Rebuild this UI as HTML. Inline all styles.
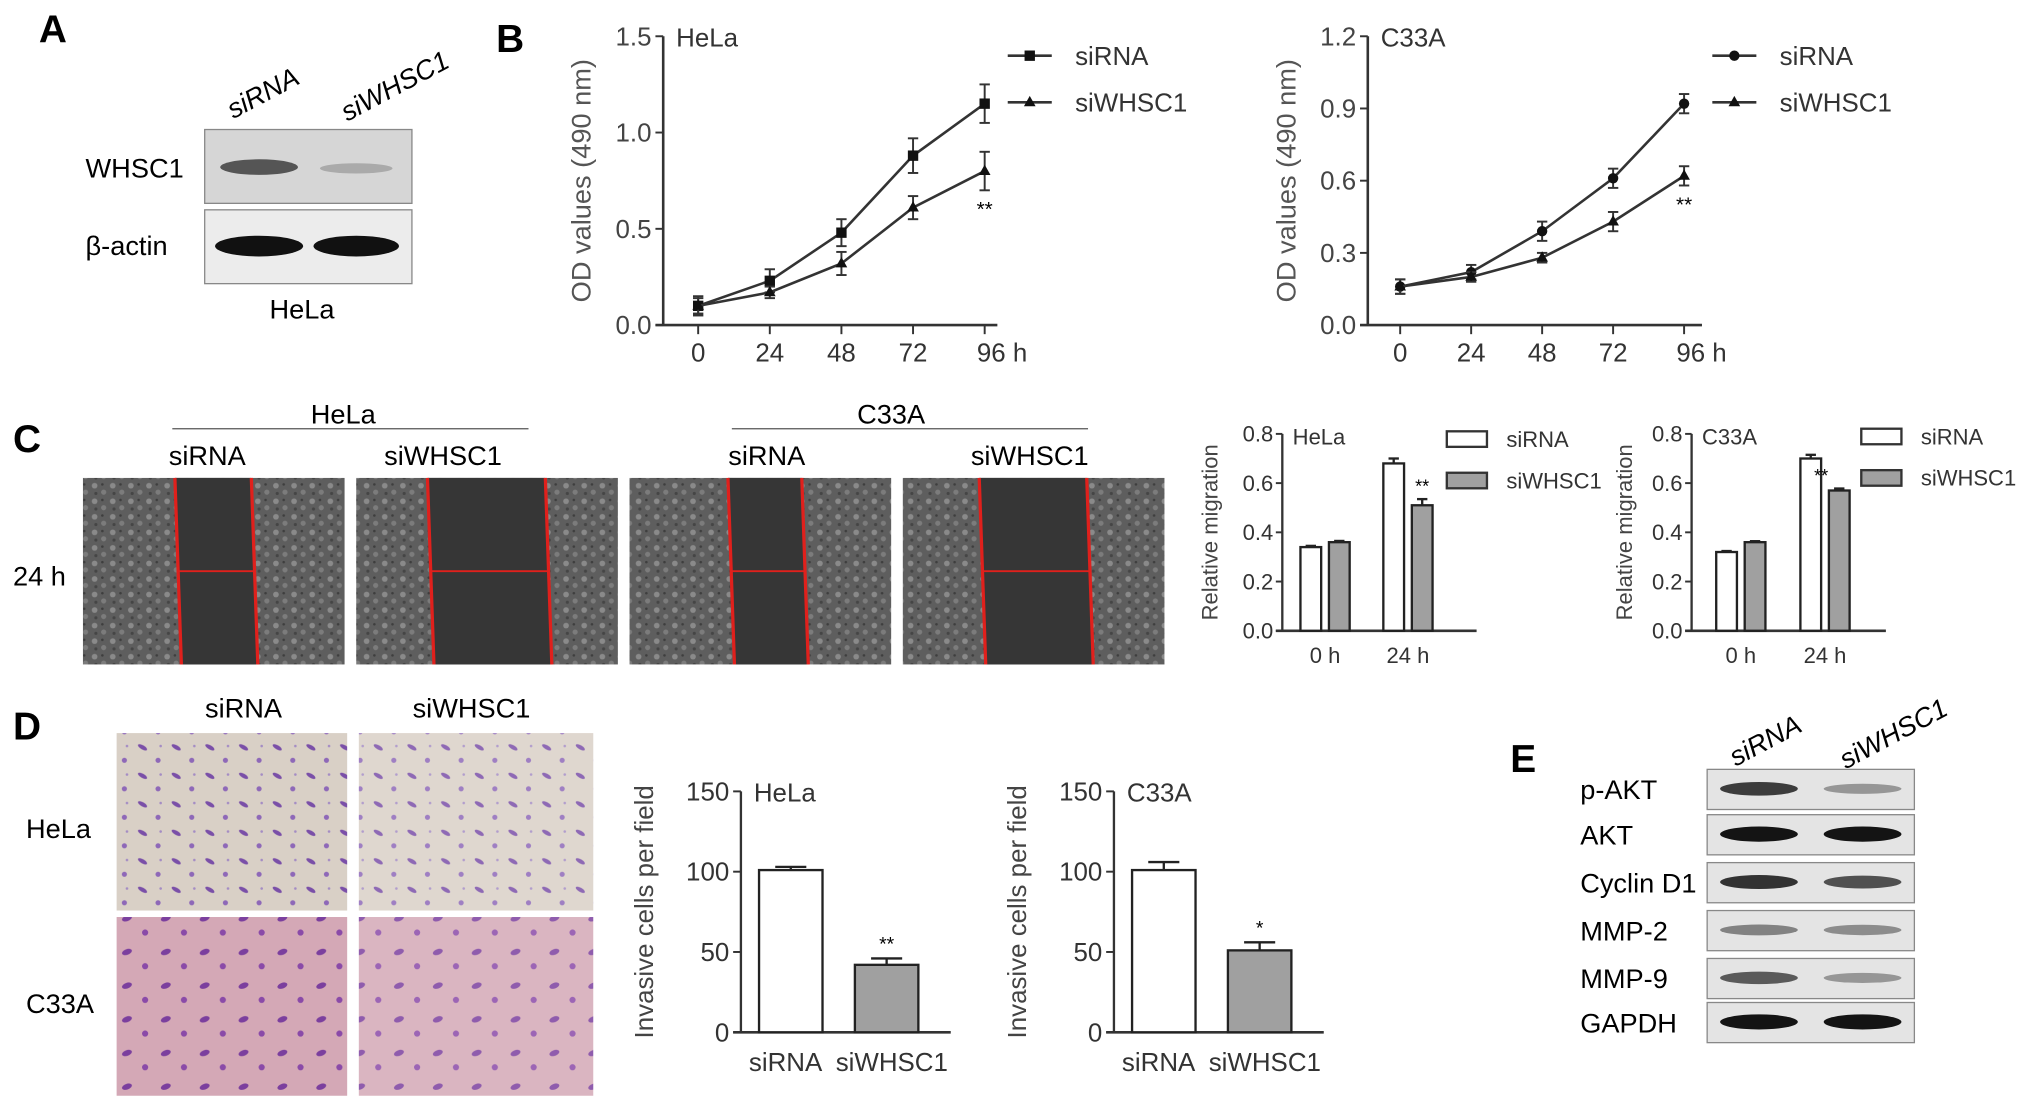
<!DOCTYPE html>
<html><head><meta charset="utf-8"><style>
html,body{margin:0;padding:0;background:#fff}
svg{display:block;font-family:"Liberation Sans",Arial,sans-serif}
</style></head><body>
<svg id="fig" width="2031" height="1110" viewBox="0 0 1568 857" xmlns="http://www.w3.org/2000/svg">
<defs>
<pattern id="cells" width="14" height="12" patternUnits="userSpaceOnUse">
<rect width="14" height="12" fill="#5e5e5e"/><circle cx="3" cy="3" r="2.2" fill="#8a8a8a"/><circle cx="10" cy="8" r="2" fill="#7c7c7c"/><circle cx="9" cy="2" r="1" fill="#3e3e3e"/><circle cx="4" cy="9" r="1.2" fill="#454545"/></pattern>
<pattern id="invH" width="26" height="22" patternUnits="userSpaceOnUse">
<rect width="26" height="22" fill="#d9d0c6"/><ellipse cx="6" cy="5" rx="4" ry="1.6" fill="#7a4fa8" transform="rotate(30 6 5)"/><circle cx="18" cy="15" r="2" fill="#8e68b8"/><circle cx="20" cy="4" r="1" fill="#a48cc4"/></pattern>
<pattern id="invC" width="30" height="26" patternUnits="userSpaceOnUse">
<rect width="30" height="26" fill="#d4a8b6"/><ellipse cx="8" cy="7" rx="4" ry="2.2" fill="#7b3f9e" transform="rotate(-20 8 7)"/><circle cx="22" cy="18" r="2.4" fill="#8a4aa8"/></pattern>
</defs>

<!-- Panel A -->
<g font-size="21">
<text x="30" y="33" font-size="30" font-weight="bold">A</text>
<text transform="translate(180,92) rotate(-28)" font-style="italic">siRNA</text>
<text transform="translate(268,94) rotate(-28)" font-style="italic">siWHSC1</text>
<rect x="158" y="100" width="160" height="57" fill="#d6d6d6" stroke="#888"/>
<ellipse cx="200" cy="129" rx="30" ry="6" fill="#555"/><ellipse cx="275" cy="130" rx="28" ry="4" fill="#aaa"/>
<rect x="158" y="162" width="160" height="57" fill="#ececec" stroke="#888"/>
<ellipse cx="200" cy="190" rx="34" ry="8" fill="#111"/><ellipse cx="275" cy="190" rx="33" ry="8" fill="#111"/>
<text x="66" y="137">WHSC1</text>
<text x="66" y="197">β-actin</text>
<text x="208" y="246">HeLa</text>
</g>
<text x="383" y="40" font-size="30" font-weight="bold">B</text>
<text x="10" y="349" font-size="30" font-weight="bold">C</text>
<text x="10" y="571" font-size="30" font-weight="bold">D</text>
<text x="1166" y="596" font-size="30" font-weight="bold">E</text>

<!-- Panel C images -->
<g font-size="21">
<text x="265" y="327" text-anchor="middle">HeLa</text><line x1="133" y1="331" x2="408" y2="331" stroke="#555"/>
<text x="688" y="327" text-anchor="middle">C33A</text><line x1="565" y1="331" x2="840" y2="331" stroke="#555"/>
<text x="160" y="359" text-anchor="middle">siRNA</text><text x="342" y="359" text-anchor="middle">siWHSC1</text>
<text x="592" y="359" text-anchor="middle">siRNA</text><text x="795" y="359" text-anchor="middle">siWHSC1</text>
<text x="10" y="452">24 h</text>
<g id="woundImgs"></g>
</g>

<!-- Panel D images -->
<g font-size="21">
<text x="188" y="554" text-anchor="middle">siRNA</text><text x="364" y="554" text-anchor="middle">siWHSC1</text>
<text x="20" y="647">HeLa</text><text x="20" y="782">C33A</text>
<rect x="90" y="566" width="178" height="137" fill="url(#invH)"/>
<rect x="277" y="566" width="181" height="137" fill="url(#invH)" opacity="0.85"/>
<rect x="90" y="708" width="178" height="138" fill="url(#invC)"/>
<rect x="277" y="708" width="181" height="138" fill="url(#invC)" opacity="0.85"/>
</g>

<!-- Panel E -->
<g font-size="21">
<text transform="translate(1340,592) rotate(-28)" font-style="italic">siRNA</text>
<text transform="translate(1425,594) rotate(-28)" font-style="italic">siWHSC1</text>
<g id="eBlots"></g>
</g>

<g id="charts"></g>
</svg>
<script>
const NS='http://www.w3.org/2000/svg';
function mk(parent,tag,attrs,text){const e=document.createElementNS(NS,tag);for(const k in attrs)e.setAttribute(k,attrs[k]);if(text!==undefined)e.textContent=text;parent.appendChild(e);return e;}
const charts=document.getElementById('charts');

// wound images
const woundX=[64,275,486,697];
const woundGapL=[137,332,564,758];
const woundGapR=[197,424,622,842];
const wg=document.getElementById('woundImgs');
woundX.forEach((x,i)=>{
 const r=mk(wg,'rect',{x:x,y:369,width:202,height:144,fill:'url(#cells)'});
 
 
 const L=woundGapL[i],R=woundGapR[i];
 mk(wg,'polygon',{points:`${L-2},369 ${R-3},369 ${R+2},513 ${L+3},513`,fill:'#363636'});
 mk(wg,'line',{x1:L-2,y1:369,x2:L+3,y2:513,stroke:'#e0201c','stroke-width':2.5});
 mk(wg,'line',{x1:R-3,y1:369,x2:R+2,y2:513,stroke:'#e0201c','stroke-width':2.5});
 mk(wg,'line',{x1:L,y1:441,x2:R,y2:441,stroke:'#e0201c','stroke-width':1.5});
});

// E blots
const eLabels=['p-AKT','AKT','Cyclin D1','MMP-2','MMP-9','GAPDH'];
const eY=[594,629,666,703,740,774];
const eInt=[[0.75,0.3],[0.95,0.95],[0.8,0.65],[0.4,0.35],[0.6,0.3],[0.95,0.95]];
const eg=document.getElementById('eBlots');
eLabels.forEach((l,i)=>{
 const b=mk(eg,'rect',{x:1318,y:eY[i],width:160,height:31,fill:'#e4e4e4',stroke:'#888'});
 
 
 [1358,1438].forEach((cx,j)=>{const v=eInt[i][j];mk(eg,'ellipse',{cx:cx,cy:eY[i]+15,rx:30,ry:3+3*v,fill:`rgb(${Math.round(210-200*v)},${Math.round(210-200*v)},${Math.round(210-200*v)})`});});
 mk(eg,'text',{x:1220,y:eY[i]+23},l);
});

// ---------- Panel B data ----------
const bTimes=['0','24','48','72','96 h'];
const helaSi=[0.10,0.23,0.48,0.88,1.15];
const helaSiErr=[0.05,0.06,0.07,0.09,0.10];
const helaKd=[0.10,0.17,0.32,0.61,0.80];
const helaKdErr=[0.04,0.03,0.06,0.06,0.10];
const helaTicks=['0.0','0.5','1.0','1.5'];
const c33Si=[0.16,0.22,0.39,0.61,0.92];
const c33SiErr=[0.03,0.03,0.04,0.04,0.04];
const c33Kd=[0.16,0.20,0.28,0.43,0.62];
const c33KdErr=[0.03,0.02,0.02,0.04,0.04];
const c33Ticks=['0.0','0.3','0.6','0.9','1.2'];

function lineChart(o){
 const g=mk(charts,'g',{'font-size':20});
 
 
 const max=+o.ticks[o.ticks.length-1];
 const y=v=>o.y0-(v/max)*(o.y0-o.y1);
 const x=i=>o.xs+i*o.dx;
 mk(g,'line',{x1:o.ax,y1:o.y1,x2:o.ax,y2:o.y0,stroke:'#333','stroke-width':2});
 mk(g,'line',{x1:o.ax-6,y1:o.y0,x2:o.ax+258,y2:o.y0,stroke:'#333','stroke-width':2});
 o.ticks.forEach(t=>{mk(g,'line',{x1:o.ax-6,y1:y(+t),x2:o.ax,y2:y(+t),stroke:'#333','stroke-width':1.5});
  mk(g,'text',{x:o.ax-9,y:y(+t)+7,'text-anchor':'end',fill:'#444'},t);});
 bTimes.forEach((t,i)=>{mk(g,'line',{x1:x(i),y1:o.y0,x2:x(i),y2:o.y0+7,stroke:'#333','stroke-width':1.5});
  mk(g,'text',{x:x(i)+(i==4?-6:0),y:o.y0+28,'text-anchor':i==4?'start':'middle',fill:'#333'},t);});
 mk(g,'text',{transform:`translate(${o.ax-56},${(o.y0+o.y1)/2}) rotate(-90)`,'text-anchor':'middle',fill:'#555','font-size':21},'OD values (490 nm)');
 mk(g,'text',{x:o.ax+10,y:o.y1+8,fill:'#333'},o.title);
 [[o.si,o.siErr,'sirna',o.siMark],[o.kd,o.kdErr,'siwhsc1','tri']].forEach(([vals,errs,nm,mark])=>{
  const pl=mk(g,'polyline',{points:vals.map((v,i)=>x(i)+','+y(v)).join(' '),fill:'none',stroke:'#333','stroke-width':2});
  
  
  vals.forEach((v,i)=>{
   mk(g,'line',{x1:x(i),y1:y(v+errs[i]),x2:x(i),y2:y(v-errs[i]),stroke:'#333','stroke-width':1.5});
   mk(g,'line',{x1:x(i)-4,y1:y(v+errs[i]),x2:x(i)+4,y2:y(v+errs[i]),stroke:'#333','stroke-width':1.5});
   mk(g,'line',{x1:x(i)-4,y1:y(v-errs[i]),x2:x(i)+4,y2:y(v-errs[i]),stroke:'#333','stroke-width':1.5});
   let m;
   if(mark=='sq')m=mk(g,'rect',{x:x(i)-4,y:y(v)-4,width:8,height:8,fill:'#111'});
   else if(mark=='circ')m=mk(g,'circle',{cx:x(i),cy:y(v),r:4,fill:'#111'});
   else m=mk(g,'polygon',{points:`${x(i)},${y(v)-5} ${x(i)-4.5},${y(v)+3} ${x(i)+4.5},${y(v)+3}`,fill:'#111'});
   
   
  });
 });
 mk(g,'text',{x:x(4),y:y(o.kd[4]-o.kdErr[4])+20,'text-anchor':'middle','font-size':16},'**');
 const lx=o.ax+266;
 [['siRNA',43,o.siMark],['siWHSC1',79,'tri']].forEach(([t,ly,mark])=>{
  mk(g,'line',{x1:lx,y1:ly,x2:lx+34,y2:ly,stroke:'#333','stroke-width':2});
  if(mark=='sq')mk(g,'rect',{x:lx+13,y:ly-4,width:8,height:8,fill:'#111'});
  else if(mark=='circ')mk(g,'circle',{cx:lx+17,cy:ly,r:4,fill:'#111'});
  else mk(g,'polygon',{points:`${lx+17},${ly-5} ${lx+12.5},${ly+3} ${lx+21.5},${ly+3}`,fill:'#111'});
  const lt=mk(g,'text',{x:lx+52,y:ly+7,fill:'#333'},t);
  
  
 });
}
lineChart({name:'hela-growth-chart',ax:512,y0:251,y1:28,xs:539,dx:55.3,ticks:helaTicks,si:helaSi,siErr:helaSiErr,kd:helaKd,kdErr:helaKdErr,title:'HeLa',siMark:'sq'});
lineChart({name:'c33a-growth-chart',ax:1056,y0:251,y1:28,xs:1081,dx:54.8,ticks:c33Ticks,si:c33Si,siErr:c33SiErr,kd:c33Kd,kdErr:c33KdErr,title:'C33A',siMark:'circ'});

// ---------- Panel C migration data ----------
const migGroups=['0 h','24 h'];
const migHelaSi=[0.34,0.68];
const migHelaSiErr=[0.005,0.02];
const migHelaKd=[0.36,0.51];
const migHelaKdErr=[0.005,0.025];
const migC33Si=[0.32,0.70];
const migC33SiErr=[0.004,0.015];
const migC33Kd=[0.36,0.57];
const migC33KdErr=[0.004,0.008];
const migTicks=['0.0','0.2','0.4','0.6','0.8'];

function barChart(o){
 const g=mk(charts,'g',{'font-size':o.fs});
 
 
 const max=+o.ticks[o.ticks.length-1];
 const y=v=>o.y0-(v/max)*(o.y0-o.y1);
 mk(g,'line',{x1:o.ax,y1:o.y1,x2:o.ax,y2:o.y0,stroke:'#333','stroke-width':1.8});
 mk(g,'line',{x1:o.ax-5,y1:o.y0,x2:o.ax+o.axw,y2:o.y0,stroke:'#333','stroke-width':2});
 o.ticks.forEach(t=>{mk(g,'line',{x1:o.ax-5,y1:y(+t),x2:o.ax,y2:y(+t),stroke:'#333','stroke-width':1.5});
  mk(g,'text',{x:o.ax-7,y:y(+t)+6,'text-anchor':'end',fill:'#333'},t);});
 mk(g,'text',{transform:`translate(${o.ax-o.tOff},${(o.y0+o.y1)/2}) rotate(-90)`,'text-anchor':'middle',fill:'#444'},o.ytitle);
 mk(g,'text',{x:o.ax+8,y:o.y1+8,fill:'#333'},o.title);
 o.series.forEach((s,si)=>{
  s.vals.forEach((v,i)=>{
   const bx=o.bx[i]+si*o.bs;
   const b=mk(g,'rect',{x:bx,y:y(v),width:o.bw,height:o.y0-y(v),fill:si?'#a0a0a0':'#fff',stroke:'#222','stroke-width':1.8});
   
   
   const cx=bx+o.bw/2,top=y(v+s.err[i]);
   mk(g,'line',{x1:cx,y1:top,x2:cx,y2:y(v),stroke:'#222','stroke-width':1.8});
   mk(g,'line',{x1:cx-o.bw/4,y1:top,x2:cx+o.bw/4,y2:top,stroke:'#222','stroke-width':1.8});
   if(s.star&&s.star[i])mk(g,'text',{x:cx+(o.starDx||0),y:top-5,'text-anchor':'middle','font-size':14},s.star[i]);
  });
 });
 o.groups.forEach((t,i)=>mk(g,'text',{x:o.bx[i]+o.bs/2+o.bw/2,y:o.y0+o.gOff,'text-anchor':'middle',fill:'#333'},t));
 if(o.legend){
  [['siRNA','#fff',o.legend[1]],['siWHSC1','#a0a0a0',o.legend[1]+32]].forEach(([t,f,ly])=>{
   mk(g,'rect',{x:o.legend[0],y:ly,width:31,height:12,fill:f,stroke:'#333','stroke-width':1.8});
   mk(g,'text',{x:o.legend[0]+46,y:ly+12,fill:'#333','font-size':17},t);
  });
 }
}
barChart({name:'hela-migration-chart',fs:17,ax:990,y0:487,y1:335,axw:150,ticks:migTicks,ytitle:'Relative migration',tOff:50,title:'HeLa',
 bx:[1004,1068],bs:22,bw:16,groups:migGroups,gOff:25,legend:[1117,333],
 series:[{nm:'sirna',vals:migHelaSi,err:migHelaSiErr},{nm:'siwhsc1',vals:migHelaKd,err:migHelaKdErr,star:['','**']}]});
barChart({name:'c33a-migration-chart',fs:17,ax:1306,y0:487,y1:335,axw:150,ticks:migTicks,ytitle:'Relative migration',tOff:46,title:'C33A',
 bx:[1325,1390],bs:22,bw:16,groups:migGroups,gOff:25,legend:[1437,331],starDx:-14,
 series:[{nm:'sirna',vals:migC33Si,err:migC33SiErr},{nm:'siwhsc1',vals:migC33Kd,err:migC33KdErr,star:['','**']}]});

// ---------- Panel D invasion data ----------
const invGroups=['siRNA','siWHSC1'];
const invHela=[101,42];
const invHelaErr=[2,4];
const invC33=[101,51];
const invC33Err=[5,5];
const invTicks=['0','50','100','150'];
function invChart(o){
 const g=mk(charts,'g',{'font-size':20});
 
 
 const y=v=>797-(v/150)*(797-611);
 mk(g,'line',{x1:o.ax,y1:611,x2:o.ax,y2:797,stroke:'#333','stroke-width':1.8});
 mk(g,'line',{x1:o.ax-6,y1:797,x2:o.ax+162,y2:797,stroke:'#333','stroke-width':2});
 invTicks.forEach(t=>{mk(g,'line',{x1:o.ax-6,y1:y(+t),x2:o.ax,y2:y(+t),stroke:'#333','stroke-width':1.5});
  mk(g,'text',{x:o.ax-9,y:y(+t)+7,'text-anchor':'end',fill:'#333'},t);});
 mk(g,'text',{transform:`translate(${o.ax-68},704) rotate(-90)`,'text-anchor':'middle',fill:'#444'},'Invasive cells per field');
 mk(g,'text',{x:o.ax+10,y:619,fill:'#333'},o.title);
 o.vals.forEach((v,i)=>{
  const bx=o.ax+14+i*74;
  const b=mk(g,'rect',{x:bx,y:y(v),width:49,height:797-y(v),fill:i?'#a0a0a0':'#fff',stroke:'#222','stroke-width':1.8});
  
  
  const cx=bx+24.5,top=y(v+o.err[i]);
  mk(g,'line',{x1:cx,y1:top,x2:cx,y2:y(v),stroke:'#222','stroke-width':1.8});
  mk(g,'line',{x1:cx-12,y1:top,x2:cx+12,y2:top,stroke:'#222','stroke-width':1.8});
  if(i==1)mk(g,'text',{x:cx,y:top-6,'text-anchor':'middle','font-size':15},o.star);
  mk(g,'text',{x:cx+(i?4:-4),y:827,'text-anchor':'middle',fill:'#333'},invGroups[i]);
 });
}
invChart({name:'hela-invasion-chart',ax:572,title:'HeLa',vals:invHela,err:invHelaErr,star:'**'});
invChart({name:'c33a-invasion-chart',ax:860,title:'C33A',vals:invC33,err:invC33Err,star:'*'});
</script>
</body></html>
